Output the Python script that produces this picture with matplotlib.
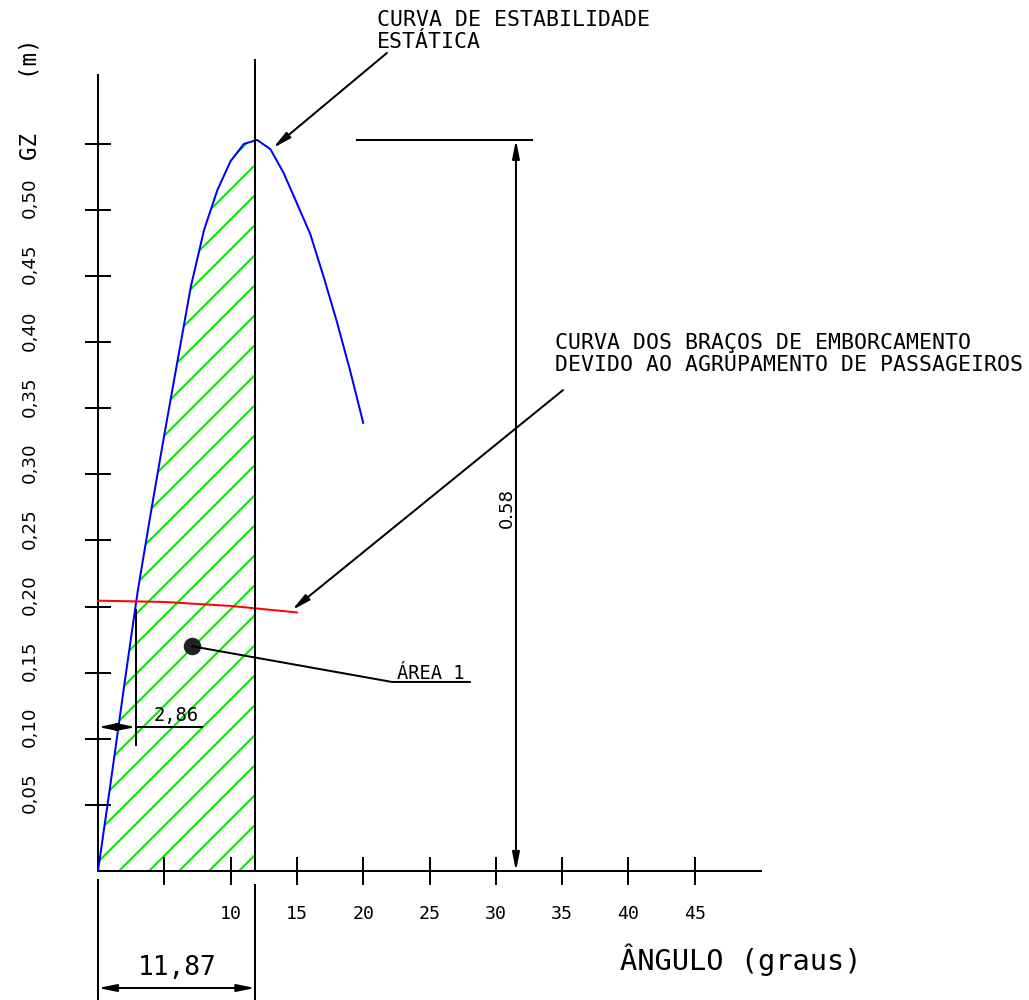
import matplotlib.pyplot as plt
import numpy as np
from matplotlib.patches import Rectangle

# curva de estabilidade estatica: GZ (m) x angulo (graus)
angulo = [0, 1, 2, 3, 4, 5, 6, 7, 8, 9, 10, 11, 12, 13, 14, 15, 16, 17, 18, 19, 20]
gz = [0.000, 0.070, 0.142, 0.212, 0.272, 0.330, 0.386, 0.442, 0.485, 0.515,
      0.537, 0.550, 0.553, 0.546, 0.528, 0.505, 0.482, 0.450, 0.416, 0.379, 0.339]

# curva dos bracos de emborcamento (agrupamento de passageiros)
angulo_emb = [0, 5, 10, 15]
gz_emb = [0.2045, 0.2035, 0.2005, 0.1956]

x_ticks = [5, 10, 15, 20, 25, 30, 35, 40, 45]
x_labels = ['', '10', '15', '20', '25', '30', '35', '40', '45']
y_ticks = [0.05, 0.10, 0.15, 0.20, 0.25, 0.30, 0.35, 0.40, 0.45, 0.50, 0.55]
y_labels = ['0,05', '0,10', '0,15', '0,20', '0,25', '0,30', '0,35', '0,40', '0,45', '0,50', '']

ang_eq = 11.87      # angulo de equilibrio (fim da area 1)
ang_cruz = 2.86     # cruzamento das curvas
gz_max_txt = '0.58'
area_pt = (7.09, 0.170)

MONO = 'DejaVu Sans Mono'
GREEN = '#00e600'
lw = 0.8

DPI = 180
plt.rcParams['hatch.linewidth'] = 0.8
plt.rcParams['hatch.color'] = GREEN
fig = plt.figure(figsize=(1029 / DPI, 1000 / DPI), dpi=DPI)
ax = fig.add_axes([0, 0, 1, 1])
ax.set_xlim(-7.391, 70.211)
ax.set_ylim(-0.09758, 0.65885)
ax.axis('off')

# area 1 hachurada
area = ax.fill_between(angulo, gz, 0, facecolor='none', edgecolor=GREEN, hatch='//', linewidth=0)
area.set_clip_path(Rectangle((0, 0), ang_eq, 1, transform=ax.transData))

# eixos
ax.plot([0, 0], [0, 0.602], color='k', lw=lw)
ax.plot([0, 50], [0, 0], color='k', lw=lw)
ax.vlines(x_ticks, -0.0106, 0.0106, color='k', lw=lw)
ax.hlines(y_ticks, -0.98, 0.98, color='k', lw=lw)
for t, lab in zip(x_ticks, x_labels):
    ax.text(t, -0.0325, lab, ha='center', va='center', family=MONO, fontsize=7.3)
for t, lab in zip(y_ticks, y_labels):
    ax.text(-5.13, t + 0.009, lab, rotation=90, ha='center', va='center', fontsize=7.3)
ax.text(-5.13, 0.584, 'GZ    (m)', rotation=90, ha='center', va='center', family=MONO, fontsize=9)
ax.text(39.37, -0.0673, 'ÂNGULO (graus)', ha='left', va='center', family=MONO, fontsize=11.5)

# curvas
ax.plot(angulo, gz, color='#0000ff', lw=lw)
ax.plot(angulo_emb, gz_emb, color='#ff0000', lw=lw)

arrow = dict(arrowstyle='-|>,head_length=0.6,head_width=0.12', mutation_scale=10,
             color='k', lw=lw, shrinkA=0, shrinkB=0)
darrow = dict(arrow, arrowstyle='<|-|>,head_length=0.6,head_width=0.12')

# angulo de equilibrio 11,87
ax.plot([ang_eq, ang_eq], [0, 0.6135], color='k', lw=lw)
ax.plot([ang_eq, ang_eq], [-0.0106, -0.0976], color='k', lw=lw)
ax.plot([0, 0], [-0.007, -0.0976], color='k', lw=lw)
ax.annotate('', xy=(0, -0.0885), xytext=(ang_eq, -0.0885), arrowprops=darrow)
ax.text(ang_eq / 2, -0.0787, f'{ang_eq:.2f}'.replace('.', ','), ha='center', va='baseline',
        family=MONO, fontsize=10.5)

# cota 2,86
ax.plot([ang_cruz, ang_cruz], [0.0953, 0.1974], color='k', lw=lw)
ax.annotate('', xy=(0, 0.1089), xytext=(ang_cruz / 2, 0.1089), arrowprops=arrow)
ax.annotate('', xy=(ang_cruz, 0.1089), xytext=(ang_cruz / 2, 0.1089), arrowprops=arrow)
ax.plot([ang_cruz, 7.84], [0.1089, 0.1089], color='k', lw=lw)
ax.text(5.88, 0.1135, f'{ang_cruz:.2f}'.replace('.', ','), ha='center', va='baseline',
        family=MONO, fontsize=7.5)

# cota 0,58
gz_max = max(gz)
ax.plot([19.53, 32.73], [gz_max, gz_max], color='k', lw=lw)
ax.annotate('', xy=(31.52, 0), xytext=(31.52, gz_max), arrowprops=darrow)
ax.text(30.84, 0.2746, gz_max_txt, rotation=90, ha='center', va='center', fontsize=7.2)

# chamadas
ax.annotate('', xy=(13.20, 0.5469), xytext=(21.79, 0.6188), arrowprops=arrow)
ax.text(21.04, 0.6513, 'CURVA DE ESTABILIDADE\nESTÁTICA', ha='left', va='top',
        family=MONO, fontsize=8.6, linespacing=1.15)
ax.annotate('', xy=(14.63, 0.1974), xytext=(35.07, 0.3638), arrowprops=arrow)
ax.text(34.46, 0.407, 'CURVA DOS BRAÇOS DE EMBORCAMENTO\nDEVIDO AO AGRUPAMENTO DE PASSAGEIROS',
        ha='left', va='top', family=MONO, fontsize=8.6, linespacing=1.15)

# area 1
ax.plot(*area_pt, 'o', ms=6.0, color='#222222')
ax.plot([area_pt[0], 22.17, 28.05], [area_pt[1], 0.143, 0.143], color='k', lw=lw)
ax.text(22.55, 0.1452, 'ÁREA 1', ha='left', va='baseline', family=MONO, fontsize=7.5)

fig.savefig('out.png', dpi=DPI)
